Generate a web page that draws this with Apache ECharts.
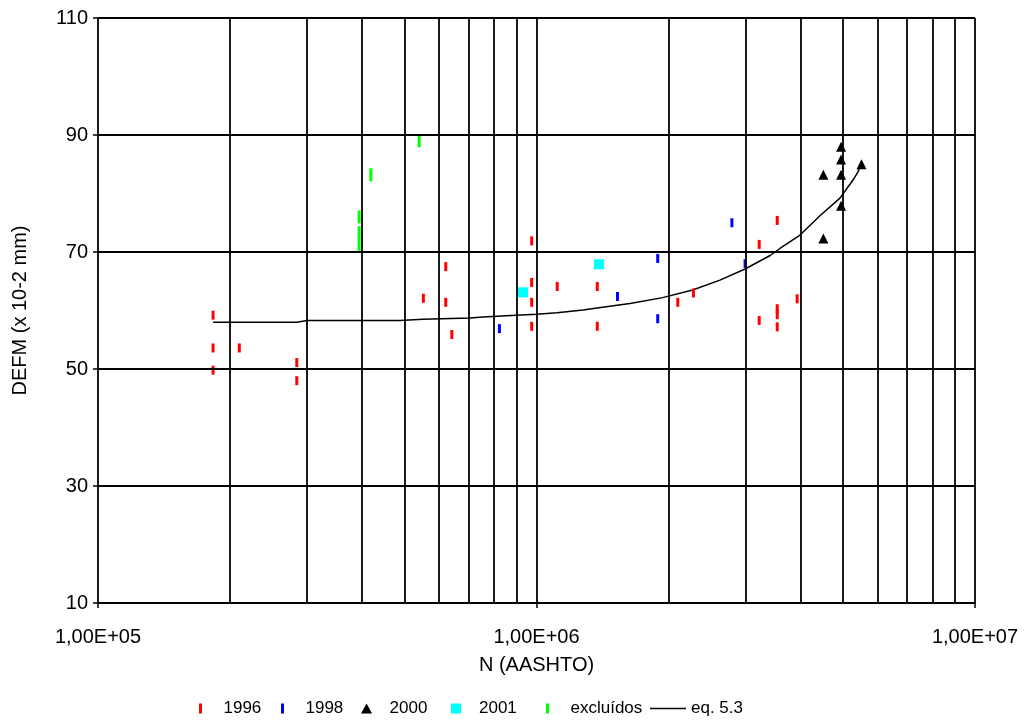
<!DOCTYPE html>
<html><head><meta charset="utf-8">
<script src="https://cdn.jsdelivr.net/npm/echarts@6/dist/echarts.min.js"></script>
<style>html,body{margin:0;padding:0;background:#fff}#c{width:1024px;height:722px}</style>
</head><body><div id="c"></div>
<script>
// ---- data ----
const xTickLabels = {5: '1,00E+05', 6: '1,00E+06', 7: '1,00E+07'};
const yTicks = [10, 30, 50, 70, 90, 110];
const yGrid = [30, 50, 70, 90, 110];
const xGrid = [2e5, 3e5, 4e5, 5e5, 6e5, 7e5, 8e5, 9e5, 1e6, 2e6, 3e6, 4e6, 5e6, 6e6, 7e6, 8e6, 9e6, 1e7];
const legendNames = ['1996', '1998', '2000', '2001', 'excluídos', 'eq. 5.3'];

const s1996 = [
  [1.83e5, 59.2], [1.83e5, 53.6], [1.83e5, 49.8], [2.10e5, 53.6], [2.84e5, 51.1], [2.84e5, 48.0],
  [5.52e5, 62.1], [6.21e5, 67.5], [6.21e5, 61.4], [6.41e5, 55.9],
  [9.75e5, 71.9], [9.75e5, 64.8], [9.75e5, 61.4], [9.75e5, 57.3],
  [1.115e6, 64.1], [1.376e6, 64.1], [1.376e6, 57.3],
  [2.10e6, 61.4], [2.28e6, 63.0],
  [3.22e6, 71.3], [3.54e6, 75.4], [3.22e6, 58.3], [3.54e6, 60.3], [3.54e6, 59.3], [3.54e6, 57.2], [3.93e6, 62.0]
];
const s1998 = [[8.23e5, 56.9], [1.53e6, 62.4], [1.89e6, 68.9], [1.89e6, 58.6], [2.79e6, 75.0], [2.99e6, 68.0]];
const s2000 = [[4.95e6, 88.0], [4.95e6, 85.8], [4.95e6, 83.2], [4.95e6, 77.9], [4.51e6, 83.2], [5.51e6, 85.0], [4.51e6, 72.3]];
const s2001 = [[9.32e5, 63.1], [1.388e6, 67.9]];
const sExcl = [[3.94e5, 76.0], [3.94e5, 73.3], [3.94e5, 71.3], [4.19e5, 83.2], [5.40e5, 89.0]];
const eqLine = [
  [1.83e5, 58.0], [2.84e5, 58.0], [3.0e5, 58.3], [4.88e5, 58.3], [5.51e5, 58.5], [7.05e5, 58.7],
  [7.55e5, 58.9], [8.98e5, 59.2], [1.0e6, 59.35], [1.114e6, 59.6], [1.276e6, 60.1], [1.455e6, 60.7],
  [1.634e6, 61.2], [1.94e6, 62.2], [2.27e6, 63.5], [2.62e6, 65.2], [2.99e6, 67.1], [3.41e6, 69.4],
  [3.59e6, 70.6], [3.99e6, 72.9], [4.43e6, 76.2], [4.92e6, 79.2], [5.27e6, 82.3], [5.41e6, 83.7], [5.47e6, 84.6]
];

// ---- chart ----
const FONT = 'Liberation Sans, Arial, sans-serif';
const chart = echarts.init(document.getElementById('c'), null, {renderer: 'canvas'});
const gridLines = [].concat(
  xGrid.map(v => ({xAxis: v})),
  yGrid.map(v => ({yAxis: v}))
);
const barIcon = 'path://M0,0h3v10h-3z';
const legendIcons = [barIcon, barIcon, 'path://M5,0L10,9L0,9z', 'path://M0,0h10v10h-10z', barIcon, 'path://M0,0h36v1.5h-36z'];
const legendLefts = [199, 281, 361, 451, 546, 650];
const legends = legendNames.map((n, i) => ({
  top: 700, left: legendLefts[i], padding: 0, itemWidth: 36, itemHeight: 10, itemGap: 0,
  textStyle: {fontFamily: FONT, fontSize: 17, color: '#000'},
  data: [{name: n, icon: legendIcons[i]}]
}));
const option = {
  animation: false,
  backgroundColor: '#fff',
  grid: {left: 98, right: 49, top: 18, bottom: 119, containLabel: false},
  xAxis: {
    type: 'log', logBase: 10, min: 1e5, max: 1e7,
    name: 'N (AASHTO)', nameLocation: 'middle', nameGap: 52,
    nameTextStyle: {fontFamily: FONT, fontSize: 20, color: '#000'},
    axisLine: {show: true, lineStyle: {color: '#000', width: 1.8}},
    axisTick: {show: true, length: 5, lineStyle: {color: '#000', width: 1.5}},
    axisLabel: {
      fontFamily: FONT, fontSize: 20, color: '#000', margin: 24,
      formatter: v => xTickLabels[Math.round(Math.log10(v))] || ''
    },
    splitLine: {show: false},
    minorTick: {show: false}
  },
  yAxis: {
    type: 'value', min: 10, max: 110,
    name: 'DEFM (x 10-2 mm)', nameLocation: 'middle', nameGap: 68,
    nameTextStyle: {fontFamily: FONT, fontSize: 20, color: '#000'},
    axisLine: {show: true, lineStyle: {color: '#000', width: 1.8}},
    axisTick: {show: true, length: 5, customValues: yTicks, lineStyle: {color: '#000', width: 1.5}},
    axisLabel: {fontFamily: FONT, fontSize: 20, color: '#000', margin: 10, customValues: yTicks},
    splitLine: {show: false}
  },
  legend: legends,
  series: [
    {
      name: '_grid', type: 'scatter', data: [], z: 1, silent: true,
      markLine: {
        silent: true, symbol: 'none', animation: false,
        label: {show: false},
        lineStyle: {color: '#000', width: 1.8, type: 'solid'},
        emphasis: {disabled: true},
        data: gridLines
      }
    },
    {
      name: 'eq. 5.3', type: 'line', data: eqLine, z: 3, symbol: 'none', showSymbol: false,
      lineStyle: {color: '#000', width: 1.5}, itemStyle: {color: '#000'}
    },
    {name: '1996', type: 'scatter', data: s1996, z: 4, symbol: 'rect', symbolSize: [3, 9], itemStyle: {color: '#ff0000', opacity: 1}},
    {name: '1998', type: 'scatter', data: s1998, z: 4, symbol: 'rect', symbolSize: [3, 9], itemStyle: {color: '#0000ff', opacity: 1}},
    {name: '2000', type: 'scatter', data: s2000, z: 4, symbol: 'triangle', symbolSize: [10, 10], itemStyle: {color: '#000', opacity: 1}},
    {name: '2001', type: 'scatter', data: s2001, z: 4, symbol: 'rect', symbolSize: [10, 10], itemStyle: {color: '#00ffff', opacity: 1}},
    {name: 'excluídos', type: 'scatter', data: sExcl, z: 4, symbol: 'rect', symbolSize: [3, 13], itemStyle: {color: '#00ff00', opacity: 1}}
  ]
};
chart.setOption(option);
</script>
</body></html>
